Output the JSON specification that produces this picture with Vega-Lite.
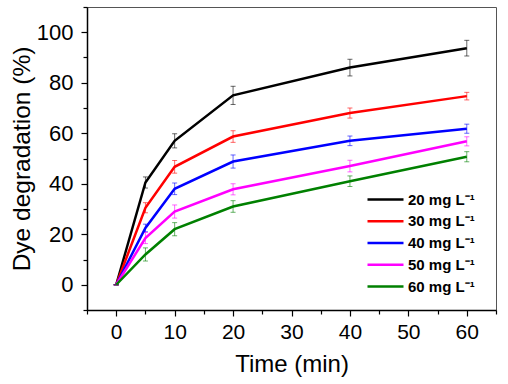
{
  "$schema": "https://vega.github.io/schema/vega-lite/v6.json",
  "width": 409,
  "height": 303,
  "autosize": "none",
  "padding": {"left": 87, "top": 7, "right": 12, "bottom": 74},
  "background": "white",
  "config": {
    "view": {"stroke": "#555555", "strokeWidth": 1},
    "font": "Liberation Sans",
    "axis": {
      "grid": false,
      "domainColor": "black",
      "domainWidth": 1.5,
      "tickColor": "black",
      "tickWidth": 1.2,
      "labelFont": "Liberation Sans",
      "labelColor": "black",
      "titleFont": "Liberation Sans",
      "titleColor": "black",
      "titleFontWeight": "normal",
      "titleFontSize": 24,
      "labelFontSize": 21
    }
  },
  "data": {
    "values": [
      {"t": 0, "v": 0, "err": 0, "c": "20 mg L⁻¹"},
      {"t": 5, "v": 40.5, "err": 2.2, "c": "20 mg L⁻¹"},
      {"t": 10, "v": 57, "err": 2.8, "c": "20 mg L⁻¹"},
      {"t": 20, "v": 75, "err": 3.6, "c": "20 mg L⁻¹"},
      {"t": 40, "v": 86, "err": 3.3, "c": "20 mg L⁻¹"},
      {"t": 60, "v": 93.7, "err": 3.1, "c": "20 mg L⁻¹"},
      {"t": 0, "v": 0, "err": 0, "c": "30 mg L⁻¹"},
      {"t": 5, "v": 30.5, "err": 2.0, "c": "30 mg L⁻¹"},
      {"t": 10, "v": 46.7, "err": 2.5, "c": "30 mg L⁻¹"},
      {"t": 20, "v": 58.7, "err": 2.3, "c": "30 mg L⁻¹"},
      {"t": 40, "v": 68, "err": 2.0, "c": "30 mg L⁻¹"},
      {"t": 60, "v": 74.7, "err": 1.5, "c": "30 mg L⁻¹"},
      {"t": 0, "v": 0, "err": 0, "c": "40 mg L⁻¹"},
      {"t": 5, "v": 22.5, "err": 1.5, "c": "40 mg L⁻¹"},
      {"t": 10, "v": 38, "err": 2.3, "c": "40 mg L⁻¹"},
      {"t": 20, "v": 48.8, "err": 2.6, "c": "40 mg L⁻¹"},
      {"t": 40, "v": 57, "err": 1.9, "c": "40 mg L⁻¹"},
      {"t": 60, "v": 61.8, "err": 1.8, "c": "40 mg L⁻¹"},
      {"t": 0, "v": 0, "err": 0, "c": "50 mg L⁻¹"},
      {"t": 5, "v": 18.5, "err": 2.2, "c": "50 mg L⁻¹"},
      {"t": 10, "v": 29, "err": 2.6, "c": "50 mg L⁻¹"},
      {"t": 20, "v": 37.8, "err": 2.2, "c": "50 mg L⁻¹"},
      {"t": 40, "v": 47, "err": 2.3, "c": "50 mg L⁻¹"},
      {"t": 60, "v": 56.8, "err": 1.8, "c": "50 mg L⁻¹"},
      {"t": 0, "v": 0, "err": 0, "c": "60 mg L⁻¹"},
      {"t": 5, "v": 12, "err": 2.6, "c": "60 mg L⁻¹"},
      {"t": 10, "v": 22, "err": 2.6, "c": "60 mg L⁻¹"},
      {"t": 20, "v": 31, "err": 2.3, "c": "60 mg L⁻¹"},
      {"t": 40, "v": 41, "err": 2.1, "c": "60 mg L⁻¹"},
      {"t": 60, "v": 50.7, "err": 2.0, "c": "60 mg L⁻¹"}
    ]
  },
  "encoding": {
    "x": {
      "field": "t",
      "type": "quantitative",
      "scale": {"domain": [-5, 65], "nice": false, "zero": false},
      "axis": {
        "title": "Time (min)",
        "values": [-5, 0, 5, 10, 15, 20, 25, 30, 35, 40, 45, 50, 55, 60, 65],
        "labelExpr": "datum.value >= 0 && datum.value % 10 === 0 ? datum.label : ''",
        "tickSize": {"condition": {"test": "datum.value % 10 === 0", "value": 6}, "value": 4},
        "labelPadding": 5,
        "titlePadding": 10,
        "labelFlush": false,
        "labelOverlap": false
      }
    },
    "y": {
      "field": "v",
      "type": "quantitative",
      "scale": {"domain": [-10, 110], "nice": false, "zero": false},
      "axis": {
        "title": "Dye degradation (%)",
        "values": [-10, 0, 10, 20, 30, 40, 50, 60, 70, 80, 90, 100, 110],
        "labelExpr": "datum.value >= 0 && datum.value <= 100 && datum.value % 20 === 0 ? datum.label : ''",
        "tickSize": {"condition": {"test": "datum.value % 20 === 0", "value": 6}, "value": 4},
        "labelPadding": 8,
        "labelFontSize": 22,
        "titlePadding": 2,
        "titleFontSize": 24.5,
        "labelFlush": false,
        "labelOverlap": false
      }
    },
    "color": {
      "field": "c",
      "type": "nominal",
      "scale": {
        "domain": ["20 mg L⁻¹", "30 mg L⁻¹", "40 mg L⁻¹", "50 mg L⁻¹", "60 mg L⁻¹"],
        "range": ["#000000", "#ff0000", "#0000ff", "#ff00ff", "#008000"]
      },
      "legend": {
        "title": null,
        "orient": "none",
        "legendX": 288,
        "legendY": 182,
        "padding": 0,
        "symbolType": "M-2,0H2",
        "symbolSize": 324,
        "symbolStrokeWidth": 2.5,
        "symbolOpacity": 1,
        "labelFont": "Liberation Sans",
        "labelFontWeight": "bold",
        "labelFontSize": 15,
        "labelColor": "black",
        "labelOffset": 12,
        "rowPadding": 2.75
      }
    }
  },
  "layer": [
    {
      "mark": {
        "type": "errorbar",
        "ticks": {"size": 5, "strokeWidth": 1},
        "rule": {"strokeWidth": 1},
        "opacity": 0.6
      },
      "encoding": {
        "yError": {"field": "err"}
      }
    },
    {
      "mark": {"type": "line", "strokeWidth": 2.5},
      "encoding": {}
    }
  ]
}
